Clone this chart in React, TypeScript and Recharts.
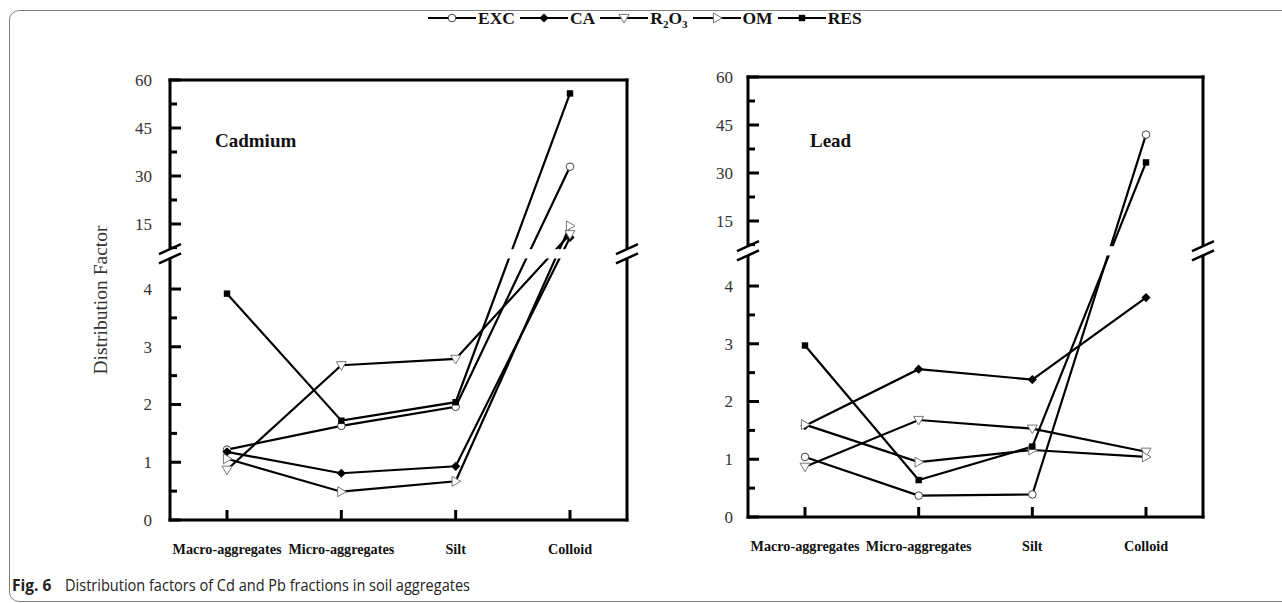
import React from 'react';
import { LineChart, Line, XAxis, YAxis } from 'recharts';

// ---------- data ----------
const categories = ['Macro-aggregates', 'Micro-aggregates', 'Silt', 'Colloid'];
const seriesNames = ['EXC', 'CA', 'R2O3', 'OM', 'RES'];
const seriesMarkers = ['circle', 'diamond', 'down', 'right', 'square'];

// Cadmium
const cdEXC = [1.22, 1.63, 1.96, 32.9];
const cdCA = [1.18, 0.81, 0.93, 10.8];
const cdR2O3 = [0.87, 2.68, 2.79, 11.8];
const cdOM = [1.06, 0.49, 0.67, 14.4];
const cdRES = [3.92, 1.72, 2.04, 55.8];

// Lead
const pbEXC = [1.04, 0.37, 0.39, 42.0];
const pbCA = [1.58, 2.56, 2.38, 3.8];
const pbR2O3 = [0.87, 1.68, 1.53, 1.13];
const pbOM = [1.6, 0.95, 1.16, 1.04];
const pbRES = [2.97, 0.64, 1.22, 33.3];

const yTickValues = [0, 0.5, 1, 1.5, 2, 2.5, 3, 3.5, 4, 7.5, 15, 22.5, 30, 37.5, 45, 52.5, 60];
const yTickLabels = ['0', '', '1', '', '2', '', '3', '', '4', '', '15', '', '30', '', '45', '', '60'];

// ---------- broken axis mapping ----------
const LOWER_MAX = 4.5;
const UPPER_MIN = 5.5;
const UPPER_START = 4.6;
const D_MAX = 7.62;
const K = (D_MAX - UPPER_START) / (60 - UPPER_MIN);
const toDisplay = (v: number) => (v <= LOWER_MAX ? v : UPPER_START + (v - UPPER_MIN) * K);
const BAND_LO = 4.53;
const BAND_HI = 4.69;

const yTickDisplay = yTickValues.map(toDisplay);

function buildData(s: Record<string, number[]>) {
  return categories.map((c, i) => {
    const row: any = { cat: c };
    seriesNames.forEach((n) => {
      row[n] = toDisplay(s[n][i]);
    });
    return row;
  });
}

const cdData = buildData({ EXC: cdEXC, CA: cdCA, R2O3: cdR2O3, OM: cdOM, RES: cdRES });
const pbData = buildData({ EXC: pbEXC, CA: pbCA, R2O3: pbR2O3, OM: pbOM, RES: pbRES });

// ---------- styling ----------
const SERIF = '"Liberation Serif", "Times New Roman", serif';
const axisStyle = { stroke: '#000', strokeWidth: 3, strokeLinecap: 'square' as const };

function Marker({ kind, cx, cy }: { kind: string; cx: number; cy: number }) {
  switch (kind) {
    case 'circle':
      return <circle cx={cx} cy={cy} r={3.8} fill="#fff" stroke="#444" strokeWidth={1} />;
    case 'diamond':
      return (
        <polygon
          points={`${cx},${cy - 4.6} ${cx + 4.6},${cy} ${cx},${cy + 4.6} ${cx - 4.6},${cy}`}
          fill="#000"
        />
      );
    case 'down':
      return (
        <polygon
          points={`${cx - 5},${cy - 3.6} ${cx + 5},${cy - 3.6} ${cx},${cy + 5}`}
          fill="#fff"
          stroke="#777"
          strokeWidth={1}
        />
      );
    case 'right':
      return (
        <polygon
          points={`${cx - 3.6},${cy - 5} ${cx - 3.6},${cy + 5} ${cx + 5},${cy}`}
          fill="#fff"
          stroke="#777"
          strokeWidth={1}
        />
      );
    default:
      return <rect x={cx - 3.2} y={cy - 3.2} width={6.4} height={6.4} fill="#000" />;
  }
}

const X_MARGIN = 6;
function XTick(props: any) {
  const { x, y, payload } = props;
  const axisY = y - X_MARGIN;
  return (
    <g>
      <line x1={x} x2={x} y1={axisY} y2={axisY - 10} stroke="#000" strokeWidth={3} />
      <text
        x={x}
        y={axisY + 29}
        dy="0.35em"
        textAnchor="middle"
        fontFamily={SERIF}
        fontWeight="bold"
        fontSize={14.2}
        fill="#111"
      >
        {payload.value}
      </text>
    </g>
  );
}

function makeYTick(margin: number) {
  return (props: any) => {
    const { x, y, payload } = props;
    const idx = yTickDisplay.findIndex((d) => Math.abs(d - payload.value) < 1e-9);
    const label = idx >= 0 ? yTickLabels[idx] : '';
    const major = label !== '';
    const axisX = x + margin;
    return (
      <g>
        <line x1={axisX} x2={axisX + (major ? 11 : 7)} y1={y} y2={y} stroke="#000" strokeWidth={3} />
        {major && (
          <text x={x} y={y} dy="0.35em" textAnchor="end" fontFamily={SERIF} fontSize={17} fill="#333">
            {label}
          </text>
        )}
      </g>
    );
  };
}

type Panel = {
  data: any[];
  left: number;
  top: number;
  width: number;
  height: number;
  marginTop: number;
  yWidth: number;
  yMargin: number;
  pad: number;
};

function PanelChart({ p }: { p: Panel }) {
  return (
    <div style={{ position: 'absolute', left: p.left, top: p.top }}>
      <LineChart
        width={p.width}
        height={p.height}
        data={p.data}
        margin={{ top: p.marginTop - 1, right: 12, bottom: 0, left: 0 }}
      >
        <XAxis
          dataKey="cat"
          height={40}
          interval={0}
          padding={{ left: p.pad, right: p.pad }}
          axisLine={axisStyle}
          tickLine={false}
          tickSize={0}
          tickMargin={X_MARGIN}
          tick={(tp: any) => <XTick {...tp} />}
        />
        <XAxis
          xAxisId="top"
          orientation="top"
          dataKey="cat"
          height={1}
          padding={{ left: p.pad, right: p.pad }}
          axisLine={axisStyle}
          tick={false}
          tickLine={false}
        />
        <YAxis
          type="number"
          domain={[0, D_MAX]}
          ticks={yTickDisplay}
          interval={0}
          allowDataOverflow
          width={p.yWidth}
          axisLine={axisStyle}
          tickLine={false}
          tickSize={0}
          tickMargin={p.yMargin}
          tick={makeYTick(p.yMargin)}
        />
        <YAxis
          yAxisId="right"
          orientation="right"
          type="number"
          domain={[0, D_MAX]}
          width={1}
          axisLine={axisStyle}
          tick={false}
          tickLine={false}
        />
        {seriesNames.map((n, si) => (
          <Line
            key={n}
            dataKey={n}
            stroke="#000"
            strokeWidth={2.2}
            isAnimationActive={false}
            activeDot={false}
            dot={(dp: any) => (
              <Marker key={`${n}-${dp.index}`} kind={seriesMarkers[si]} cx={dp.cx} cy={dp.cy} />
            )}
          />
        ))}
      </LineChart>
    </div>
  );
}

const leftPanel: Panel = { data: cdData, left: 0, top: 0, width: 640, height: 560, marginTop: 80, yWidth: 170, yMargin: 18, pad: 57 };
const rightPanel: Panel = { data: pbData, left: 640, top: 0, width: 576, height: 557, marginTop: 77, yWidth: 108, yMargin: 15, pad: 57 };

function plotBox(p: Panel) {
  return {
    x0: p.left + p.yWidth,
    x1: p.left + p.width - 13,
    y0: p.top + p.marginTop,
    y1: p.top + p.height - 40,
  };
}

function BreakMarks({ p }: { p: Panel }) {
  const b = plotBox(p);
  const yPix = (d: number) => b.y1 - ((b.y1 - b.y0) * d) / D_MAX;
  const yHi = yPix(BAND_HI);
  const yLo = yPix(BAND_LO);
  const slash = (ax: number, yc: number, k: string) => (
    <line key={k} x1={ax - 11} y1={yc + 5} x2={ax + 11} y2={yc - 5} stroke="#000" strokeWidth={2.6} />
  );
  return (
    <g>
      <rect x={b.x0 - 4} y={yHi} width={b.x1 - b.x0 + 8} height={yLo - yHi} fill="#fff" />
      {slash(b.x0, yHi, 'a')}
      {slash(b.x0, yLo, 'b')}
      {slash(b.x1, yHi, 'c')}
      {slash(b.x1, yLo, 'd')}
    </g>
  );
}

function LegendRow() {
  return (
    <div
      style={{
        position: 'absolute',
        left: 428,
        top: 7,
        height: 22,
        display: 'flex',
        alignItems: 'center',
        fontFamily: SERIF,
        fontWeight: 'bold',
        fontSize: 17.5,
        color: '#111',
      }}
    >
      {seriesNames.map((n, i) => (
        <div key={n} style={{ display: 'flex', alignItems: 'center', marginRight: 5 }}>
          <svg width={48} height={16} style={{ display: 'block' }}>
            <line x1={0} x2={48} y1={8} y2={8} stroke="#000" strokeWidth={2.2} />
            <Marker kind={seriesMarkers[i]} cx={24} cy={8} />
          </svg>
          <span style={{ marginLeft: 2, lineHeight: '22px' }}>
            {n === 'R2O3' ? (
              <>
                R<sub style={{ fontSize: 11, verticalAlign: '-4px', lineHeight: 0 }}>2</sub>O
                <sub style={{ fontSize: 11, verticalAlign: '-4px', lineHeight: 0 }}>3</sub>
              </>
            ) : (
              n
            )}
          </span>
        </div>
      ))}
    </div>
  );
}

export default function App() {
  return (
    <div
      style={{
        position: 'fixed',
        left: 0,
        top: 0,
        width: 1282,
        height: 603,
        overflow: 'hidden',
        background: '#fff',
      }}
    >
      <div
        style={{
          position: 'absolute',
          left: 9,
          top: 10,
          width: 1300,
          height: 592,
          boxSizing: 'border-box',
          border: '1.5px solid #808080',
          borderRadius: 10,
        }}
      />
      <LegendRow />
      <PanelChart p={leftPanel} />
      <PanelChart p={rightPanel} />
      <svg
        width={1282}
        height={603}
        style={{ position: 'absolute', left: 0, top: 0, pointerEvents: 'none' }}
      >
        <BreakMarks p={leftPanel} />
        <BreakMarks p={rightPanel} />
        <text x={215} y={140} dy="0.35em" fontFamily={SERIF} fontWeight="bold" fontSize={19} fill="#111">
          Cadmium
        </text>
        <text x={810} y={140} dy="0.35em" fontFamily={SERIF} fontWeight="bold" fontSize={19} fill="#111">
          Lead
        </text>
        <text
          transform="translate(100,300) rotate(-90)"
          textAnchor="middle"
          dy="0.35em"
          fontFamily={SERIF}
          fontSize={19.5}
          fill="#333"
        >
          Distribution Factor
        </text>
        <text x={12} y={586} dy="0.35em" fontFamily='"Open Sans", "Noto Sans", sans-serif' fontWeight="bold" fontSize={15.5} fill="#222">
          Fig. 6
        </text>
        <text
          x={65}
          y={586}
          dy="0.35em"
          fontFamily='"Open Sans", "Noto Sans", sans-serif'
          fontSize={15.5}
          fill="#222"
          textLength={405}
          lengthAdjust="spacingAndGlyphs"
        >
          Distribution factors of Cd and Pb fractions in soil aggregates
        </text>
      </svg>
    </div>
  );
}
